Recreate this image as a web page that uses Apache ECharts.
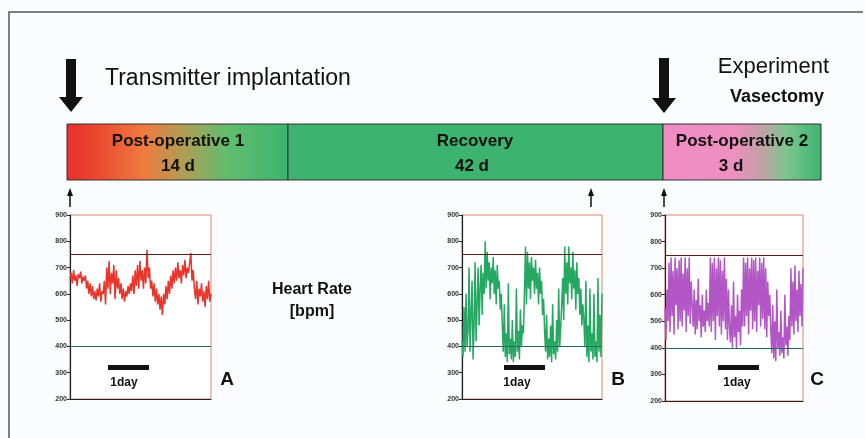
<!DOCTYPE html>
<html><head><meta charset="utf-8">
<script src="https://cdn.jsdelivr.net/npm/echarts@6/dist/echarts.min.js"></script>
<style>html,body{margin:0;padding:0;background:#fbfcfd}#c{width:865px;height:438px}</style>
</head><body><div id="c"></div>
<script>
// ---- data ----
const yMin = 200, yMax = 900, yStep = 100;
const thresholdHigh = 750;
const thresholdLow = 400;

// Panel A: Post-operative 1 (heart rate, bpm)
const hrA = [655,680,640,690,650,670,630,675,660,685,640,665,650,670,
  620,650,600,640,590,630,580,610,575,620,590,640,570,610,600,650,560,
  700,620,725,600,680,640,710,580,690,620,660,
  600,640,580,620,570,610,590,630,600,
  640,610,670,600,690,630,710,620,725,650,690,620,700,640,
  768,660,700,
  620,650,590,640,570,620,560,600,540,590,520,
  600,560,630,580,650,600,670,620,690,640,700,650,720,660,690,640,710,670,730,660,700,680,720,
  755,650,690,
  620,580,650,560,620,590,640,570,610,550,630,580,650,570,600];

// Panel B: Recovery
const hrB = [420,360,550,380,600,400,460,700,380,520,650,350,480,720,420,560,700,480,620,710,520,680,600,
  800,620,760,650,720,580,700,640,740,600,690,560,710,620,650,540,600,
  480,380,560,360,450,340,640,370,430,350,500,340,420,360,620,380,460,350,540,400,480,450,
  600,780,560,760,620,720,580,740,650,700,600,730,620,680,560,700,600,650,520,580,
  460,380,520,350,430,360,480,340,560,370,420,350,500,380,620,400,470,
  560,660,500,780,600,720,560,780,640,700,580,760,620,690,540,720,600,660,520,620,480,560,500,
  400,650,360,480,340,620,380,450,350,600,360,420,340,660,380,520,360,600];

// Panel C: Post-operative 2
const hrC = [550,430,620,500,720,460,740,520,690,450,740,560,700,470,730,500,740,480,680,540,740,460,700,520,740,490,650,560,
  480,620,450,580,470,660,500,560,440,600,480,540,460,620,500,570,480,
  740,460,720,500,740,430,700,520,740,480,730,450,690,500,740,470,660,430,620,480,
  420,560,400,650,440,520,400,600,460,540,410,620,480,
  740,480,720,520,740,450,700,540,740,470,730,500,740,460,690,560,740,480,720,510,740,470,700,440,650,520,600,
  470,380,560,360,500,350,620,400,460,370,540,380,440,360,600,410,480,370,520,430,
  700,480,650,450,710,500,620,460,690,520,640,480,700];

const phaseNames = ['Post-operative 1', 'Recovery', 'Post-operative 2'];
const phaseDurations = ['14 d', '42 d', '3 d'];
const panelLetters = ['A', 'B', 'C'];
const scaleLabel = '1day';
const eventLabels = ['Transmitter implantation', 'Experiment', 'Vasectomy'];
const yTitle = ['Heart Rate', '[bpm]'];

// ---- layout ----
const FONT = '"Liberation Sans", Arial, sans-serif';
const seriesData = [hrA, hrB, hrC];
const seriesColors = ['#e8352c', '#25a862', '#b256c6'];
const gridBoxes = [
  {left: 70, top: 215, width: 141, height: 184},
  {left: 462, top: 215, width: 140, height: 184},
  {left: 665, top: 215, width: 138, height: 186}
];
const scaleBars = [{x: 108, cx: 124}, {x: 504, cx: 517}, {x: 718, cx: 737}];
const letterPos = [227, 618, 817];

const grid = [], xAxis = [], yAxis = [], series = [];
gridBoxes.forEach((g, i) => {
  grid.push(Object.assign({show: true, backgroundColor: '#ffffff', borderColor: '#d98a6c', borderWidth: 1}, g));
  xAxis.push({type: 'category', gridIndex: i, boundaryGap: false,
    data: seriesData[i].map((_, k) => k),
    axisLine: {show: true, lineStyle: {color: '#222', width: 1.2}},
    axisTick: {show: false}, axisLabel: {show: false}, splitLine: {show: false}});
  yAxis.push({type: 'value', gridIndex: i, min: yMin, max: yMax, interval: yStep,
    axisLine: {show: true, lineStyle: {color: '#222', width: 1.2}},
    axisTick: {show: true, length: 3, lineStyle: {color: '#222'}},
    axisLabel: {fontSize: 7, fontWeight: 'bold', color: '#333', margin: 3, fontFamily: FONT},
    splitLine: {show: false}});
  series.push({type: 'line', xAxisIndex: i, yAxisIndex: i, data: seriesData[i],
    showSymbol: false, symbol: 'none', lineStyle: {width: 1.5, color: seriesColors[i]},
    itemStyle: {color: seriesColors[i]}, z: 3,
    markLine: {silent: true, symbol: ['none', 'none'], label: {show: false}, animation: false,
      data: [
        {yAxis: thresholdHigh, lineStyle: {color: '#5a1d12', type: 'solid', width: 1}},
        {yAxis: thresholdLow, lineStyle: {color: '#1f6b66', type: 'solid', width: 1}}
      ]}});
});

function bigArrow(cx, top, headStart, tip) {
  return {type: 'polygon', shape: {points: [
    [cx - 5, top], [cx + 5, top], [cx + 5, headStart], [cx + 12, headStart],
    [cx, tip], [cx - 12, headStart], [cx - 5, headStart]]},
    style: {fill: '#111'}};
}
function smallArrow(x) {
  return [
    {type: 'line', shape: {x1: x, y1: 207, x2: x, y2: 193}, style: {stroke: '#111', lineWidth: 1.5}},
    {type: 'polygon', shape: {points: [[x - 3, 196], [x + 3, 196], [x, 188]]}, style: {fill: '#111'}}
  ];
}
function txt(x, y, text, size, weight, align) {
  return {type: 'text', x: x, y: y, style: {text: text, fill: '#111', font: (weight || 'normal') + ' ' + size + 'px ' + FONT,
    textAlign: align || 'center', textVerticalAlign: 'middle'}};
}

const barTop = 124, barH = 56;
const segs = [
  {x: 67, w: 221, fill: {type: 'linear', x: 0, y: 0, x2: 1, y2: 0, colorStops: [
    {offset: 0, color: '#e8302c'}, {offset: 0.12, color: '#ea442f'}, {offset: 0.35, color: '#ef7b3f'},
    {offset: 0.52, color: '#b29c55'}, {offset: 0.72, color: '#62bd6e'}, {offset: 1, color: '#3cb46f'}]}},
  {x: 288, w: 375, fill: '#3cb46f'},
  {x: 663, w: 158, fill: {type: 'linear', x: 0, y: 0, x2: 1, y2: 0, colorStops: [
    {offset: 0, color: '#ef8cc2'}, {offset: 0.45, color: '#ee90c0'}, {offset: 0.62, color: '#c4a0a6'},
    {offset: 0.78, color: '#7cc690'}, {offset: 1, color: '#3cb46f'}]}}
];
const phaseTextX = [[178, 178], [475, 472], [742, 731]];

const graphic = [
  {type: 'polyline', shape: {points: [[9, 438], [9, 12], [863, 12]]}, style: {stroke: '#555', lineWidth: 1.5, fill: null}},
  bigArrow(71, 59, 97, 112),
  bigArrow(664, 58, 98, 113),
  txt(105, 79, eventLabels[0], 23, 'normal', 'left'),
  txt(829, 67, eventLabels[1], 22, 'normal', 'right'),
  txt(824, 97, eventLabels[2], 18, 'bold', 'right')
];
segs.forEach((s, i) => {
  graphic.push({type: 'rect', shape: {x: s.x, y: barTop, width: s.w, height: barH},
    style: {fill: s.fill, stroke: '#333', lineWidth: 1}});
  graphic.push(txt(phaseTextX[i][0], 141, phaseNames[i], 17, 'bold'));
  graphic.push(txt(phaseTextX[i][1], 166, phaseDurations[i], 17, 'bold'));
});
[70, 591, 664].forEach(x => smallArrow(x).forEach(g => graphic.push(g)));
scaleBars.forEach((b, i) => {
  graphic.push({type: 'rect', shape: {x: b.x, y: 365, width: 41, height: 5}, style: {fill: '#111'}, z: 10});
  graphic.push(Object.assign(txt(b.cx, 383, scaleLabel, 12, 'bold'), {z: 10}));
  graphic.push(Object.assign(txt(letterPos[i], 380, panelLetters[i], 19, 'bold'), {z: 10}));
});
graphic.push(txt(312, 290, yTitle[0], 16, 'bold'));
graphic.push(txt(312, 312, yTitle[1], 16, 'bold'));

const chart = echarts.init(document.getElementById('c'), null, {renderer: 'canvas'});
chart.setOption({
  backgroundColor: '#fbfcfd',
  animation: false,
  grid: grid, xAxis: xAxis, yAxis: yAxis, series: series,
  graphic: graphic
});
</script></body></html>
